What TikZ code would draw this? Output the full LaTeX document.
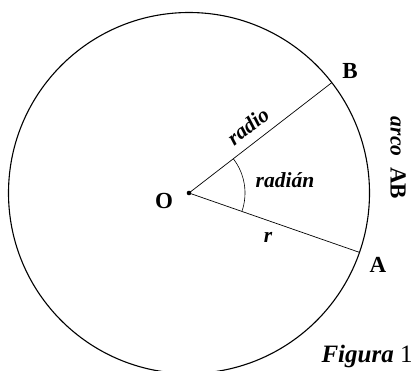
\documentclass[tikz,border=0pt]{standalone}
\usepackage{fontspec}
\setmainfont{Liberation Serif}
\usetikzlibrary{calc}
\begin{document}
\begin{tikzpicture}[x=1pt,y=-1pt,
  lbl/.style={font=\fontsize{23}{25}\selectfont\bfseries, inner sep=0pt},
  itl/.style={font=\fontsize{21.5}{23}\selectfont\bfseries\itshape, inner sep=0pt},
  ray/.style={line width=0.7pt},
  circ/.style={line width=1.1pt}]
\useasboundingbox (0,0) rectangle (417,370);
\coordinate (O) at (189,193);
\coordinate (A) at ($(O)+(-19.2:180.5pt)$);
\coordinate (B) at ($(O)+(37.7:180.5pt)$);
\draw[circ] (O) circle (180.5pt);
\draw[ray] (O) -- (A);
\draw[ray] (O) -- (B);
\fill (O) circle (2.3pt);
\draw[line width=0.6pt] ($(O)+(-19.2:56pt)$) arc[start angle=-19.2, end angle=37.7, radius=56pt];
\node[lbl] (oL) at (164,201) {O};
\node[lbl] (bL) at (350,71) {B};
\node[lbl] (aL) at (378,265) {A};
\node[itl, rotate=37.7] (radio) at (248,126) {radio};
\node[itl] (radian) at (285,180) {radián};
\node[itl] (r) at (268,237) {r};
\node[rotate=-90, inner sep=0pt] (arco) at (398,158) {\fontsize{21.5}{23}\selectfont\bfseries\itshape arco\ \ \upshape\fontsize{23}{25}\selectfont AB};
\node[inner sep=0pt] (fig) at (367,356) {\fontsize{25}{27}\selectfont\bfseries\itshape Figura \mdseries\upshape 1};
\end{tikzpicture}
\end{document}
